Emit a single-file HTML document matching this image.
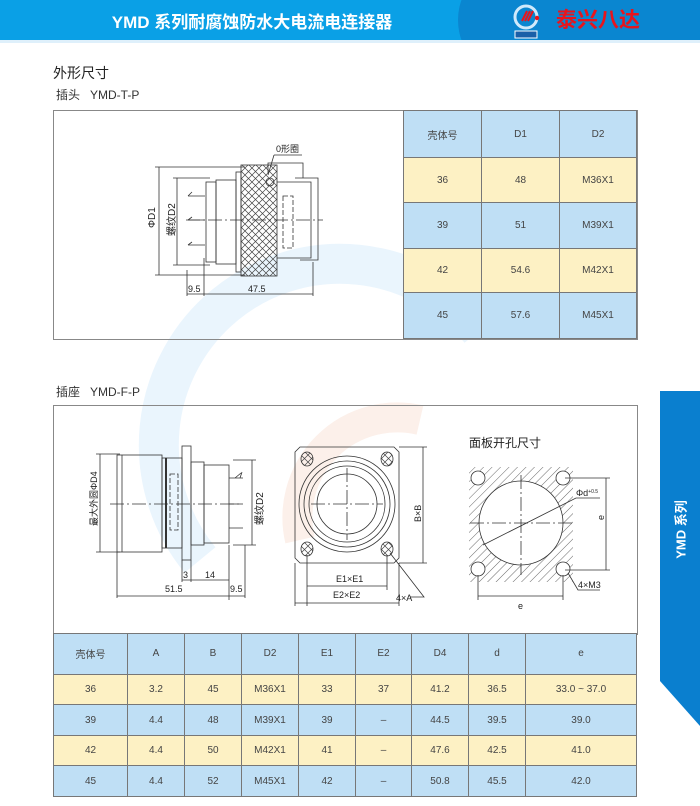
<!DOCTYPE html>
<html><head><meta charset="utf-8">
<style>
body{margin:0;width:700px;height:806px;background:#fff;position:relative;overflow:hidden;font-family:"Liberation Sans","Noto Sans CJK SC",sans-serif;}
.hdr{position:absolute;left:0;top:0;width:700px;height:40px;background:#0aa0e6;overflow:hidden;}
.hdr2{position:absolute;left:458px;top:-40px;width:400px;height:120px;background:#0a86d0;border-radius:60px 0 0 60px;}
.hline{position:absolute;left:0;top:40px;width:700px;height:3px;background:#dff0fb;}
.title{position:absolute;left:0;width:504px;top:8px;text-align:center;color:#fff;font-weight:bold;font-size:17px;}
.brand{position:absolute;left:556px;top:7px;color:#e8141c;font-weight:bold;font-size:21px;font-family:"Noto Sans CJK SC",sans-serif;line-height:24px;}
.t{position:absolute;font-size:12px;color:#333;}
table{position:absolute;border-collapse:collapse;font-size:10px;color:#444;table-layout:fixed;}
td{border:1px solid #777;text-align:center;padding:0;}
.b td{background:#bfdff5}.y td{background:#fdf1c4}
.box{position:absolute;border:1px solid #888;}
.tab{position:absolute;left:660px;top:391px;width:40px;height:335px;background:#0a7fcf;clip-path:polygon(0 0,100% 0,100% 100%,0 290px);}
.tabt{position:absolute;left:640px;top:520px;width:80px;text-align:center;color:#fff;font-weight:bold;font-size:13px;transform:rotate(-90deg);white-space:nowrap;}
</style></head><body>
<div class="hdr"><div class="hdr2"></div></div><div class="hline"></div>
<div class="title">YMD 系列耐腐蚀防水大电流电连接器</div>
<svg style="position:absolute;left:512px;top:3px" width="40" height="36">
<circle cx="14" cy="14" r="11" fill="none" stroke="#cfe9fb" stroke-width="3"/>
<path d="M10 18 L15 8 M13 18 L18 8 M16 18 L21 8" stroke="#e8141c" stroke-width="2"/>
<circle cx="25" cy="15" r="2.2" fill="#e8141c"/>
<rect x="3" y="28" width="22" height="7" fill="#1a5fa8" stroke="#fff" stroke-width="1"/>
</svg>
<div class="brand">泰兴八达</div>

<svg style="position:absolute;left:0;top:0" width="700" height="806">
<path d="M200 560 A170 170 0 0 1 480 330" fill="none" stroke="#eaf5fd" stroke-width="40"/>
<path d="M300 540 A100 100 0 0 1 420 420" fill="none" stroke="#fcf0ea" stroke-width="30"/>
</svg>

<div class="t" style="left:53px;top:63px;font-size:14px;color:#222">外形尺寸</div>
<div class="t" style="left:56px;top:86px">插头&nbsp;&nbsp;&nbsp;YMD-T-P</div>
<div class="box" style="left:53px;top:110px;width:583px;height:228px"></div>
<table style="left:403px;top:110px;width:234px;height:229px">
<colgroup><col style="width:78px"><col style="width:78px"><col></colgroup>
<tr class="b" style="height:47px"><td>壳体号</td><td>D1</td><td>D2</td></tr>
<tr class="y" style="height:45px"><td>36</td><td>48</td><td>M36X1</td></tr>
<tr class="b" style="height:46px"><td>39</td><td>51</td><td>M39X1</td></tr>
<tr class="y" style="height:44px"><td>42</td><td>54.6</td><td>M42X1</td></tr>
<tr class="b" style="height:46px"><td>45</td><td>57.6</td><td>M45X1</td></tr>
</table>

<svg style="position:absolute;left:0;top:0" width="700" height="806" font-family="Liberation Sans,Noto Sans CJK SC,sans-serif" font-size="9" fill="#222">
<defs>
<pattern id="x" width="7" height="7" patternUnits="userSpaceOnUse"><path d="M0 0L7 7M7 0L0 7" stroke="#444" stroke-width=".7"/></pattern>
<pattern id="h" width="6" height="6" patternUnits="userSpaceOnUse" patternTransform="rotate(45)"><path d="M0 0V6" stroke="#444" stroke-width=".8"/></pattern>
</defs>
<g stroke="#333" fill="none" stroke-width=".8">
<path d="M159 167V275M155 167H245M155 275H245M177 178V265M173 178H210M173 265H210"/>
<path d="M188 196H205M188 220H205M188 245H205M188 196l4 -4M188 220l4-3M188 245l4-3"/>
<rect x="206" y="182" width="10" height="80"/><rect x="216" y="180" width="20" height="84"/><rect x="236" y="172" width="5" height="100"/>
<rect x="241" y="165" width="36" height="111" fill="url(#x)"/>
<path d="M268 173V163H303V178M277 182H311V258H277M295 178H318V260H300"/>
<rect x="283" y="196" width="10" height="52" stroke-dasharray="5 2"/>
<circle cx="270" cy="182" r="4"/>
<path d="M186 220H323" stroke-dasharray="14 3 2 3"/>
<path d="M187 270V296M204 258V296M313 262V296M187 294H313M274 155L268 175M274 155H302"/>
<path d="M100 454V552M96 454H120M96 552H120"/>
<rect x="117" y="455" width="45" height="97"/><path d="M122 455V552"/>
<rect x="162" y="458" width="20" height="90"/><path d="M166 458V548" stroke-width="2"/>
<rect x="182" y="446" width="9" height="114"/>
<rect x="191" y="462" width="13" height="83"/><rect x="204" y="465" width="25" height="78"/>
<rect x="170" y="474" width="8" height="56" stroke-dasharray="5 2"/>
<path d="M229 478H243M229 504H243M229 528H243M235 478l6-5M240 478l2 -6"/>
<path d="M252 460V545M233 460H256M233 545H256"/>
<path d="M110 504H240" stroke-dasharray="14 3 2 3"/>
<path d="M182 560V582M191 560V582M229 545V600M117 552V598M245 545V598M182 580H229M117 596H245"/>
<path d="M300 447H394L399 452V558L394 563H300L295 558V452Z"/>
<circle cx="347" cy="504" r="48"/><circle cx="347" cy="504" r="43"/><circle cx="347" cy="504" r="38"/><circle cx="347" cy="504" r="30"/>
<g fill="url(#x)"><ellipse cx="307" cy="459" rx="6" ry="7"/><ellipse cx="387" cy="459" rx="6" ry="7"/><ellipse cx="307" cy="549" rx="6" ry="7"/><ellipse cx="387" cy="549" rx="6" ry="7"/></g>
<path d="M311 504H383M347 468V540" stroke-dasharray="14 3 2 3"/>
<path d="M423 447V563M399 447H427M399 563H427M307 555V606M387 555V590M295 563V606M399 563V606M307 586H387M295 603H399M390 553L424 597H410"/>
<rect x="469" y="467" width="104" height="115" fill="url(#h)" stroke="none"/>
<circle cx="521" cy="523" r="42" fill="#fff"/>
<g fill="#fff"><circle cx="478" cy="478" r="7"/><circle cx="563" cy="478" r="7"/><circle cx="478" cy="569" r="7"/><circle cx="563" cy="569" r="7"/></g>
<path d="M470 523H573M521 475V575" stroke-dasharray="14 3 2 3"/>
<path d="M483 545L576 498H600M606 478V570M565 478H610M565 570H610M478 575V600M563 575V600M478 596H563M568 573L578 590H600"/>
</g>
<g stroke="none">
<text x="276" y="152">0形圈</text>
<text transform="translate(155 228) rotate(-90)" font-size="10">ΦD1</text>
<text transform="translate(175 236) rotate(-90)" font-size="10">螺纹D2</text>
<text x="188" y="292">9.5</text><text x="248" y="292">47.5</text>
<text transform="translate(97 526) rotate(-90)" font-size="9">最大外圆ΦD4</text>
<text transform="translate(263 525) rotate(-90)" font-size="10">螺纹D2</text>
<text x="183" y="578">3</text><text x="205" y="578">14</text>
<text x="165" y="592">51.5</text><text x="230" y="592">9.5</text>
<text x="336" y="582">E1×E1</text><text x="333" y="598">E2×E2</text><text x="396" y="601">4×A</text>
<text transform="translate(421 522) rotate(-90)">B×B</text>
<text x="469" y="447" font-size="12">面板开孔尺寸</text>
<text x="576" y="496">Φd<tspan font-size="5" dy="-3">+0.5</tspan></text>
<text transform="translate(604 520) rotate(-90)">e</text>
<text x="518" y="609">e</text><text x="578" y="588">4×M3</text>
</g>
</svg>

<div class="t" style="left:56px;top:383px">插座&nbsp;&nbsp;&nbsp;YMD-F-P</div>
<div class="box" style="left:53px;top:405px;width:583px;height:228px"></div>
<table style="left:53px;top:633px;width:584px;height:164px">
<colgroup><col style="width:74px"><col style="width:57px"><col style="width:57px"><col style="width:57px"><col style="width:57px"><col style="width:56px"><col style="width:57px"><col style="width:57px"><col></colgroup>
<tr class="b"><td>壳体号</td><td>A</td><td>B</td><td>D2</td><td>E1</td><td>E2</td><td>D4</td><td>d</td><td>e</td></tr>
<tr class="y"><td>36</td><td>3.2</td><td>45</td><td>M36X1</td><td>33</td><td>37</td><td>41.2</td><td>36.5</td><td>33.0 ~ 37.0</td></tr>
<tr class="b"><td>39</td><td>4.4</td><td>48</td><td>M39X1</td><td>39</td><td>–</td><td>44.5</td><td>39.5</td><td>39.0</td></tr>
<tr class="y"><td>42</td><td>4.4</td><td>50</td><td>M42X1</td><td>41</td><td>–</td><td>47.6</td><td>42.5</td><td>41.0</td></tr>
<tr class="b"><td>45</td><td>4.4</td><td>52</td><td>M45X1</td><td>42</td><td>–</td><td>50.8</td><td>45.5</td><td>42.0</td></tr>
</table>
<div class="tab"></div><div class="tabt">YMD 系列</div>
</body></html>
